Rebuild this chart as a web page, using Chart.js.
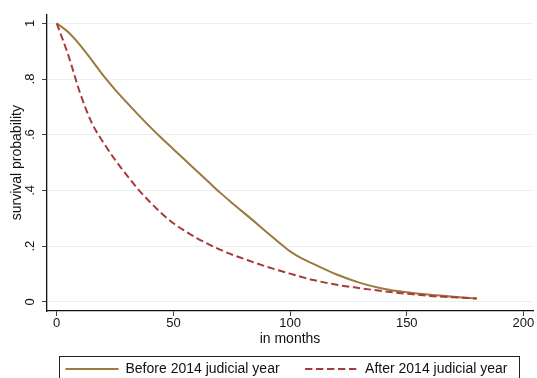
<!DOCTYPE html>
<html>
<head>
<meta charset="utf-8">
<script src="https://cdn.jsdelivr.net/npm/chart.js@4"></script>
<style>
  html, body { margin: 0; padding: 0; background: #fff; }
  #wrap { width: 537px; height: 378px; }
</style>
</head>
<body>
<div id="wrap"><canvas id="chart" width="537" height="378"></canvas></div>
<script>
// survival curves
const months = [0, 5, 10, 15, 20, 25, 30, 35, 40, 45, 50, 55, 60, 65, 70, 75, 80, 85, 90, 95, 100, 105, 110, 120, 130, 140, 150, 160, 170, 180];
const before2014 = [1, 0.968, 0.922, 0.868, 0.812, 0.762, 0.716, 0.671, 0.628, 0.587, 0.548, 0.509, 0.47, 0.431, 0.392, 0.356, 0.321, 0.286, 0.25, 0.215, 0.181, 0.156, 0.136, 0.098, 0.068, 0.047, 0.034, 0.025, 0.018, 0.012];
const after2014 = [1, 0.885, 0.75, 0.643, 0.572, 0.51, 0.455, 0.403, 0.358, 0.317, 0.282, 0.254, 0.229, 0.207, 0.187, 0.17, 0.155, 0.14, 0.126, 0.113, 0.101, 0.089, 0.078, 0.061, 0.049, 0.038, 0.029, 0.021, 0.016, 0.012];
const seriesNames = ['Before 2014 judicial year', 'After 2014 judicial year'];
const xTicks = [0, 50, 100, 150, 200];
const yTicks = [0, 0.2, 0.4, 0.6, 0.8, 1];

const FONT = '"Liberation Sans", Arial, sans-serif';

const toPoints = ys => months.map((m, i) => ({ x: m, y: ys[i] }));

// frame round the legend, as in the Stata output
const legendFrame = {
    id: 'legendFrame',
    afterDraw(chart) {
        const hb = chart.legend && chart.legend.legendHitBoxes;
        if (!hb || !hb.length) return;
        const first = hb[0], last = hb[hb.length - 1];
        const l = Math.round(first.left - 6) + 0.5;
        const r = Math.round(last.left + last.width + 11) + 0.5;
        const t = Math.round(first.top + first.height / 2 - 13) + 0.5;
        const ctx = chart.ctx;
        ctx.save();
        ctx.strokeStyle = '#222';
        ctx.lineWidth = 1;
        ctx.strokeRect(l, t, r - l, 60);
        ctx.restore();
    }
};

new Chart(document.getElementById('chart'), {
    type: 'line',
    data: {
        datasets: [
            {
                label: seriesNames[0],
                data: toPoints(before2014),
                borderColor: '#9b7a3e',
                backgroundColor: 'transparent',
                borderWidth: 2,
                pointRadius: 0,
                cubicInterpolationMode: 'monotone',
                order: 1
            },
            {
                label: seriesNames[1],
                data: toPoints(after2014),
                borderColor: '#a83a3a',
                backgroundColor: 'transparent',
                borderWidth: 2,
                borderDash: [7.31, 3.66],
                pointRadius: 0,
                cubicInterpolationMode: 'monotone',
                order: 0
            }
        ]
    },
    options: {
        responsive: false,
        animation: false,
        devicePixelRatio: 1,
        layout: { padding: { top: 12, right: 4, bottom: -8, left: 0 } },
        scales: {
            x: {
                type: 'linear',
                min: -4.16,
                max: 204.1,
                afterBuildTicks: s => { s.ticks = xTicks.map(v => ({ value: v })); },
                afterFit: s => { s.height = 25.5; },
                grid: { drawOnChartArea: false, drawTicks: true, tickLength: 5, tickColor: '#444' },
                border: { display: true, color: '#111', width: 1.3 },
                ticks: { padding: 0, color: '#111', font: { family: FONT, size: 13 }, maxRotation: 0 },
                title: {
                    display: true, text: 'in months', color: '#111',
                    font: { family: FONT, size: 14 },
                    padding: { top: 0, bottom: -11.2 }
                }
            },
            y: {
                min: -0.0331,
                max: 1.032,
                afterBuildTicks: s => { s.ticks = yTicks.map(v => ({ value: v })); },
                afterFit: s => { s.width = 47; },
                grid: { color: '#e8f0f1', lineWidth: 1, drawTicks: true, tickLength: 5, tickColor: '#444' },
                border: { display: true, color: '#111', width: 1.3 },
                ticks: {
                    padding: 6.6,
                    color: '#111',
                    font: { family: FONT, size: 13 },
                    minRotation: 90,
                    maxRotation: 90,
                    crossAlign: 'center',
                    callback: v => v === 0 ? '0' : v === 1 ? '1' : String(+v.toFixed(1)).replace(/^0/, '')
                },
                title: {
                    display: true, text: 'survival probability', color: '#111',
                    font: { family: FONT, size: 14 },
                    padding: { top: 8.3, bottom: 0 }
                }
            }
        },
        plugins: {
            legend: {
                position: 'bottom',
                fullSize: true,
                align: 'end',
                labels: {
                    boxWidth: 53,
                    boxHeight: 0,
                    padding: 25.5,
                    color: '#111',
                    font: { family: FONT, size: 14 },
                    sort: (a, b) => a.datasetIndex - b.datasetIndex
                }
            },
            tooltip: { enabled: false }
        }
    },
    plugins: [legendFrame]
});
</script>
</body>
</html>
